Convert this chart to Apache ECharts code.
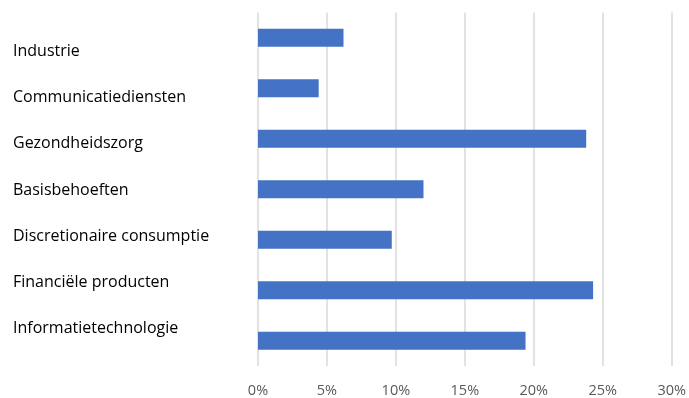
<!DOCTYPE html>
<html>
<head>
<meta charset="utf-8">
<script src="https://cdn.jsdelivr.net/npm/echarts@6/dist/echarts.min.js"></script>
<style>
html, body { margin: 0; padding: 0; background: #fff; }
#main { width: 689px; height: 398px; }
</style>
</head>
<body>
<div id="main"></div>
<script>
// sectoren, van boven naar beneden
var sectoren = ['Industrie', 'Communicatiediensten', 'Gezondheidszorg', 'Basisbehoeften',
    'Discretionaire consumptie', 'Financiële producten', 'Informatietechnologie'];
var weging = [6.2, 4.4, 23.8, 12.0, 9.7, 24.3, 19.4];
var xTicks = [0, 5, 10, 15, 20, 25, 30];

var chart = echarts.init(document.getElementById('main'));

chart.setOption({
    animation: false,
    grid: [
        // staafjes
        { left: 258, width: 415, top: 12.5, height: 355.5 },
        // labels (staan in het origineel iets anders verdeeld)
        { left: 258, width: 415, top: 28.5, height: 323 }
    ],
    xAxis: [
        {
            gridIndex: 0,
            type: 'value',
            min: xTicks[0],
            max: xTicks[xTicks.length - 1],
            interval: 5,
            axisLine: { show: false },
            axisTick: { show: false },
            splitLine: { lineStyle: { color: '#d9d9d9', width: 1.5 } },
            axisLabel: {
                formatter: '{value}%',
                color: '#595959',
                fontFamily: 'Open Sans',
                fontSize: 14.5,
                margin: 17
            }
        },
        { gridIndex: 1, type: 'value', show: false, min: 0, max: 30 }
    ],
    yAxis: [
        {
            gridIndex: 0,
            type: 'category',
            data: sectoren,
            inverse: true,
            axisLine: { show: false },
            axisTick: { show: false },
            axisLabel: { show: false }
        },
        {
            gridIndex: 1,
            type: 'category',
            data: sectoren,
            inverse: true,
            axisLine: { show: false },
            axisTick: { show: false },
            axisLabel: {
                align: 'left',
                margin: 245,
                color: '#000',
                fontFamily: 'Open Sans',
                fontSize: 16
            }
        }
    ],
    series: [{
        type: 'bar',
        xAxisIndex: 0,
        yAxisIndex: 0,
        data: weging,
        barWidth: 18,
        itemStyle: { color: '#4472c4' }
    }]
});
</script>
</body>
</html>
